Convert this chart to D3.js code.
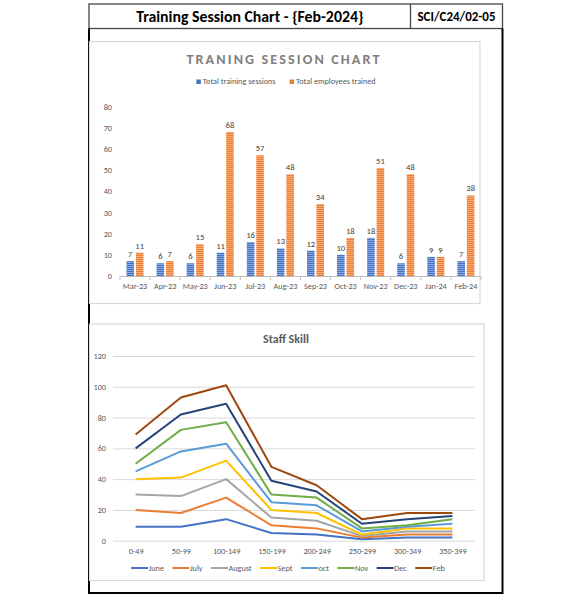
<!DOCTYPE html>
<html><head><meta charset="utf-8">
<script src="https://cdn.jsdelivr.net/npm/d3@7"></script>
<style>
html,body{margin:0;padding:0;background:#fff;}
svg{display:block;}
text{font-family:Carlito,Lato,"Liberation Sans",sans-serif;}
</style></head>
<body>
<script>
// ---------- data ----------
const headerTitle = "Training Session Chart - {Feb-2024}";
const headerCode = "SCI/C24/02-05";

const months = ["Mar-23","Apr-23","May-23","Jun-23","Jul-23","Aug-23","Sep-23","Oct-23","Nov-23","Dec-23","Jan-24","Feb-24"];
const sessions = [7,6,6,11,16,13,12,10,18,6,9,7];
const employees = [11,7,15,68,57,48,34,18,51,48,9,38];
const barSeriesNames = ["Total training sessions","Total employees trained"];
const barYTicks = [0,10,20,30,40,50,60,70,80];

const skillBands = ["0-49","50-99","100-149","150-199","200-249","250-299","300-349","350-399"];
const skillNames = ["June","July","August","Sept","oct","Nov","Dec","Feb"];
const june   = [9,9,14,5,4,1,2,2];
const july   = [20,18,28,10,8,2,4,4];
const august = [30,29,40,15,13,3,6,6];
const sept   = [40,41,52,20,18,4,8,8];
const oct    = [45,58,63,25,23,6,9,11];
const nov    = [50,72,77,30,28,8,10,14];
const dec    = [60,82,89,39,32,11,14,16];
const feb    = [69,93,101,48,36,14,18,18];
const skillYTicks = [0,20,40,60,80,100,120];
const skillColors = ["#4472c4","#ed7d31","#a5a5a5","#ffc000","#5b9bd5","#70ad47","#264478","#9e480e"];
const skillValues = [june,july,august,sept,oct,nov,dec,feb];

// ---------- canvas ----------
const svg = d3.select("body").append("svg").attr("width",581).attr("height",600);
const defs = svg.append("defs");
function stripe(id, base, light){
  const p = defs.append("pattern").attr("id",id).attr("patternUnits","userSpaceOnUse")
    .attr("width",4).attr("height",2);
  p.append("rect").attr("width",4).attr("height",2).attr("fill",base);
  p.append("rect").attr("width",4).attr("height",1).attr("fill",light);
}
stripe("stBlue","#4472c4","#8aa6dc");
stripe("stOrange","#ed7d31","#f5ad7c");

// outer frame
const L=89, R=502.5, T=4, HB=28.5, B=593, DIV=410.5;
svg.append("rect").attr("x",L).attr("y",T).attr("width",R-L).attr("height",HB-T)
  .attr("fill","none").attr("stroke","#444").attr("stroke-width",1.3);
svg.append("line").attr("x1",DIV).attr("x2",DIV).attr("y1",T).attr("y2",HB).attr("stroke","#444").attr("stroke-width",1.3);
svg.append("path").attr("d",`M${L},${HB} V${B} H${R} V${HB}`).attr("fill","none").attr("stroke","#000").attr("stroke-width",2);
svg.append("text").attr("x",(L+DIV)/2).attr("y",21.5).attr("text-anchor","middle")
  .attr("font-size",15.8).attr("font-weight","bold").attr("fill","#000").text(headerTitle);
svg.append("text").attr("x",(DIV+R)/2).attr("y",21).attr("text-anchor","middle")
  .attr("font-size",13).attr("font-weight","bold").attr("fill","#000").text(headerCode);

// ---------- chart 1 ----------
svg.append("rect").attr("x",89.5).attr("y",41.5).attr("width",390.5).attr("height",262)
  .attr("fill","#fff").attr("stroke","#d9d9d9").attr("stroke-width",1.2);
svg.append("text").attr("x",284).attr("y",64).attr("text-anchor","middle")
  .attr("font-size",14.2).attr("font-weight","bold").attr("letter-spacing",2.1).attr("fill","#7f7f7f")
  .text("TRANING SESSION CHART");

const g1 = svg.append("g");
const x0 = d3.scaleBand().domain(months).range([120,481]);
const x1 = d3.scaleBand().domain([0,1]).range([6.5,23.5]).paddingInner(0.2);
const y1 = d3.scaleLinear().domain([0,80]).range([276,106.5]);
const fs = 8.2;

// legend 1
{
  const lg = g1.append("g");
  let cx = 0;
  const fills = ["#4472c4","#ed7d31"];
  barSeriesNames.forEach((n,i)=>{
    const it = lg.append("g").attr("transform",`translate(${cx},0)`);
    it.append("rect").attr("x",0).attr("y",-4.5).attr("width",4.5).attr("height",4.5).attr("fill",fills[i]);
    const t = it.append("text").attr("x",6.5).attr("y",0).attr("font-size",fs).attr("fill","#595959").text(n);
    cx += 6.5 + t.node().getComputedTextLength() + 14;
  });
  const w = cx - 14;
  lg.attr("transform",`translate(${286 - w/2},84)`);
}

// y axis labels
const ya1 = g1.append("g").attr("transform","translate(114,0)")
  .call(d3.axisLeft(y1).tickValues(barYTicks).tickSize(0).tickPadding(2));
ya1.select(".domain").remove();
ya1.selectAll("text").attr("font-size",fs).attr("fill","#595959").style("font-family","Carlito,Lato,sans-serif");

// bars
const pairs = months.map((m,i)=>({m, v:[sessions[i],employees[i]]}));
const grp = g1.selectAll("g.grp").data(pairs).join("g").attr("class","grp")
  .attr("transform",d=>`translate(${x0(d.m)},0)`);
grp.selectAll("rect").data(d=>d.v.map((v,k)=>({v,k}))).join("rect")
  .attr("x",d=>x1(d.k)).attr("width",x1.bandwidth())
  .attr("y",d=>y1(d.v)).attr("height",d=>y1(0)-y1(d.v))
  .attr("fill",d=>d.k===0?"url(#stBlue)":"url(#stOrange)");
grp.selectAll("text").data(d=>d.v.map((v,k)=>({v,k}))).join("text")
  .attr("x",d=>x1(d.k)+x1.bandwidth()/2).attr("y",d=>y1(d.v)-4)
  .attr("text-anchor","middle").attr("font-size",8.6).attr("fill","#404040").text(d=>d.v);

// x axis
const xa1 = g1.append("g").attr("transform",`translate(0,${y1(0)})`)
  .call(d3.axisBottom(x0).tickSize(0).tickPadding(7));
xa1.select(".domain").attr("stroke","#bfbfbf").attr("stroke-width",1.2);
xa1.selectAll("text").attr("font-size",fs).attr("fill","#595959").style("font-family","Carlito,Lato,sans-serif");
const bounds = months.map(m=>x0(m)).concat([x0.range()[1]]);
g1.selectAll("line.bt").data(bounds).join("line").attr("class","bt")
  .attr("x1",d=>d).attr("x2",d=>d).attr("y1",y1(0)).attr("y2",y1(0)+4)
  .attr("stroke","#bfbfbf").attr("stroke-width",1);

// ---------- chart 2 ----------
svg.append("rect").attr("x",89.5).attr("y",324).attr("width",394.5).attr("height",256.5)
  .attr("fill","#fff").attr("stroke","#d9d9d9").attr("stroke-width",1.2);
svg.append("text").attr("x",286).attr("y",342.5).attr("text-anchor","middle")
  .attr("font-size",12).attr("font-weight","bold").attr("fill","#595959").text("Staff Skill");

const g2 = svg.append("g");
const x2 = d3.scalePoint().domain(skillBands).range([113,475]).padding(0.5);
const y2 = d3.scaleLinear().domain([0,120]).range([540.7,356]);

const ya2 = g2.append("g").attr("transform","translate(113,0)")
  .call(d3.axisLeft(y2).tickValues(skillYTicks).tickSize(-362).tickPadding(7));
ya2.select(".domain").remove();
ya2.selectAll("line").attr("stroke","#d9d9d9").attr("stroke-width",1);
ya2.selectAll("text").attr("font-size",fs).attr("fill","#595959").style("font-family","Carlito,Lato,sans-serif");

const xa2 = g2.append("g").attr("transform",`translate(0,${y2(0)})`)
  .call(d3.axisBottom(x2).tickSize(0).tickPadding(7));
xa2.select(".domain").remove();
xa2.selectAll("text").attr("font-size",fs).attr("fill","#595959").style("font-family","Carlito,Lato,sans-serif");

const line = d3.line().x((d,i)=>x2(skillBands[i])).y(d=>y2(d));
g2.selectAll("path.sl").data(skillValues).join("path").attr("class","sl")
  .attr("d",line).attr("fill","none").attr("stroke",(d,i)=>skillColors[i])
  .attr("stroke-width",2).attr("stroke-linejoin","round");

// legend 2
{
  const lg = g2.append("g");
  let cx = 0;
  skillNames.forEach((n,i)=>{
    const it = lg.append("g").attr("transform",`translate(${cx},0)`);
    it.append("line").attr("x1",0).attr("x2",17).attr("y1",0).attr("y2",0)
      .attr("stroke",skillColors[i]).attr("stroke-width",2);
    const t = it.append("text").attr("x",17.5).attr("y",2.8).attr("font-size",fs).attr("fill","#595959").text(n);
    cx += 17.5 + t.node().getComputedTextLength() + 8.5;
  });
  const w = cx - 8.5;
  lg.attr("transform",`translate(${288 - w/2},568)`);
}
</script>
</body></html>
